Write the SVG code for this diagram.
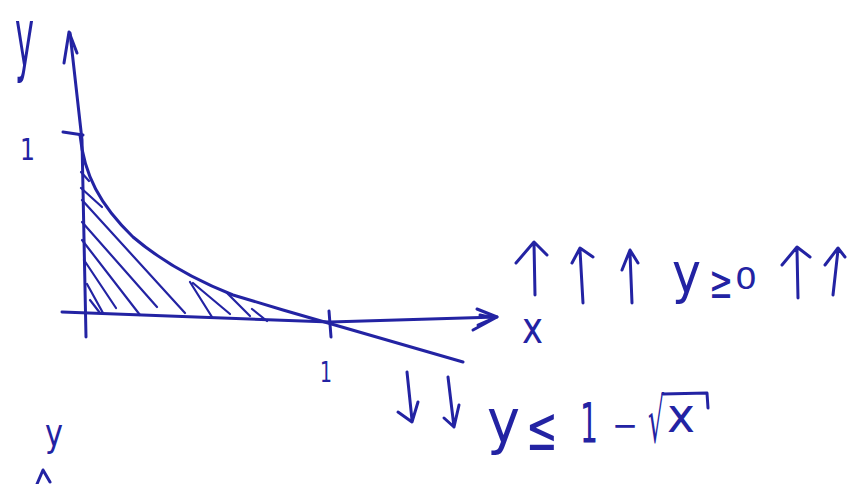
<svg xmlns="http://www.w3.org/2000/svg" width="854" height="484" viewBox="0 0 854 484">
<style>
.ink{fill:none;stroke:#2323a3;stroke-width:3;stroke-linecap:round;stroke-linejoin:round}
.thin{fill:none;stroke:#2323a3;stroke-width:2.2;stroke-linecap:round}
.t{fill:#2323a3;font-family:"DejaVu Sans",sans-serif}
</style>
<rect width="854" height="484" fill="#ffffff"/>
<g id="axes">
<path class="ink" d="M86,337 L82,140 L70,33"/>
<path class="ink" d="M64,63 L69,32 L77,53"/>
<path class="ink" d="M63,132 L83,135"/>
<path class="ink" d="M62,312 L330,322 L497,317"/>
<path class="ink" d="M477,309 L497,317 L473,330 M480,315 L494,318 L478,325"/>
<path class="ink" d="M329,311 L331,337"/>
</g>
<g id="curve">
<path class="ink" d="M80,135 C84,175 100,205 133,237 C160,260 190,278 233,295 L283,310 L463,362"/>
</g>
<g id="hatching">
<path class="thin" d="M81,172 L89,181 M81,188 L102,207 M82,200 L185,313 M82,222 L157,307 M82,240 L140,315 M84,260 L116,308 M87,284 L103,313 M90,300 L100,313 M190,282 L212,317 M193,283 L230,314 M227,293 L250,316 M252,309 L267,321"/>
</g>
<g id="labels">
<text class="t" x="15" y="66" font-size="82" textLength="19" lengthAdjust="spacingAndGlyphs">y</text>
<text class="t" x="20" y="160" font-size="30" textLength="15" lengthAdjust="spacingAndGlyphs">1</text>
<text class="t" x="320" y="382" font-size="28" textLength="12" lengthAdjust="spacingAndGlyphs">1</text>
<text class="t" x="522" y="343" font-size="44" textLength="21" lengthAdjust="spacingAndGlyphs">x</text>
<text class="t" x="45" y="446" font-size="38" textLength="18" lengthAdjust="spacingAndGlyphs">y</text>
</g>
<g id="ge0">
<path class="ink" d="M535,295 L534,243 M516,263 L534,242 L547,255"/>
<path class="ink" d="M583,303 L580,250 M572,263 L580,248 L593,257"/>
<path class="ink" d="M632,303 L630,253 M622,270 L630,250 L638,263"/>
<path class="ink" d="M798,298 L797,250 M782,265 L797,247 L810,257"/>
<path class="ink" d="M833,295 L838,250 M825,265 L838,248 L845,257"/>
<text class="t" x="672" y="292" font-size="55" textLength="29" lengthAdjust="spacingAndGlyphs">y</text>
<text class="t" x="709" y="298" font-size="46" textLength="24" lengthAdjust="spacingAndGlyphs">≥</text>
<text class="t" x="735" y="289" font-size="30" textLength="22" lengthAdjust="spacingAndGlyphs">0</text>
</g>
<g id="le">
<path class="ink" d="M407,372 L412,420 M398,412 L412,422 L418,402"/>
<path class="ink" d="M448,377 L454,427 M444,418 L454,427 L459,405"/>
<text class="t" x="487" y="442" font-size="60" textLength="33" lengthAdjust="spacingAndGlyphs">y</text>
<text class="t" x="526" y="450" font-size="62" textLength="32" lengthAdjust="spacingAndGlyphs">≤</text>
<text class="t" x="580" y="442" font-size="56" textLength="18" lengthAdjust="spacingAndGlyphs">1</text>
<text class="t" x="612" y="437" font-size="34" textLength="26" lengthAdjust="spacingAndGlyphs">−</text>
<text class="t" x="648" y="442" font-size="62" textLength="16" lengthAdjust="spacingAndGlyphs">√</text>
<path class="ink" d="M663,394 L707,393 L708,408"/>
<text class="t" x="667" y="432" font-size="48" textLength="28" lengthAdjust="spacingAndGlyphs">x</text>
</g>
<g id="partial">
<path class="ink" d="M37,484 L43,470 L50,482"/>
</g>
</svg>
